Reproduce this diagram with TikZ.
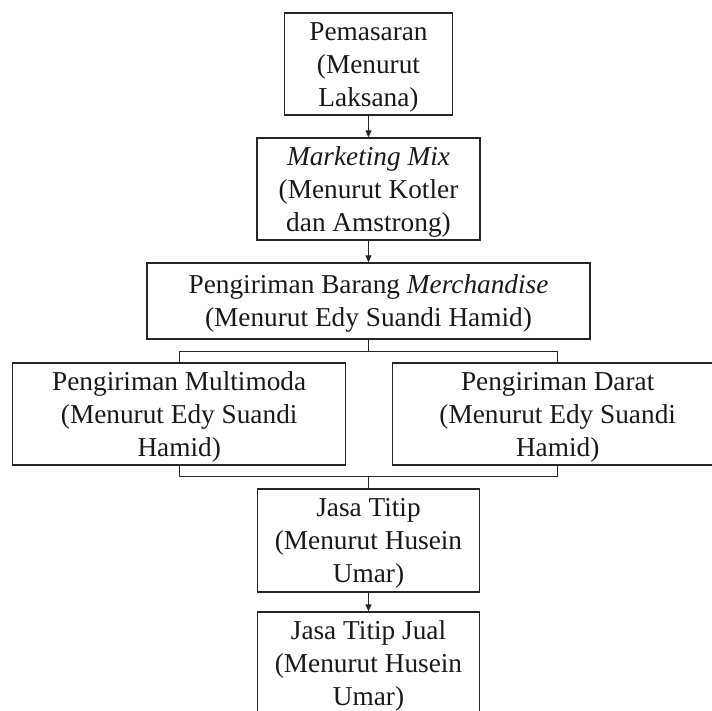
\documentclass[tikz,border=0pt]{standalone}
\usepackage{fontspec}
\setmainfont{Liberation Serif}
\usetikzlibrary{arrows.meta}
\begin{document}
\begin{tikzpicture}[x=1pt,y=-1pt,
  box/.style={draw=black!85, line width=1.3pt, inner sep=0pt},
  txt/.style={align=center, inner sep=0pt, text=black!90,
    font=\fontsize{27.3pt}{33pt}\selectfont},
  conn/.style={draw=black!85, line width=1.1pt},
  arr/.style={conn, -{Triangle[length=7pt,width=6pt]}}]
\useasboundingbox (0,0) rectangle (712,711);
\clip (0,0) rectangle (712,711);
% boxes
\node[box, minimum width=168pt, minimum height=102pt] (b1) at (368.5,64) {};
\node[box, minimum width=223pt, minimum height=102pt] (b2) at (368.5,189) {};
\node[box, minimum width=443pt, minimum height=76pt] (b3) at (368.5,301) {};
\node[box, minimum width=333pt, minimum height=102pt] (b4) at (179.2,414) {};
\node[box, minimum width=330pt, minimum height=102pt] (b5) at (557.7,414) {};
\node[box, minimum width=222pt, minimum height=103pt] (b6) at (368.5,540.5) {};
\node[box, minimum width=222pt, minimum height=103pt] (b7) at (368.5,663.5) {};
% texts
\node[txt] (t1) at (368.5,67) {Pemasaran\\(Menurut\\Laksana)};
\node[txt] (t2) at (368.5,192) {\textit{Marketing Mix}\\(Menurut Kotler\\dan Amstrong)};
\node[txt] (t3) at (368.5,303.5) {Pengiriman Barang \textit{Merchandise}\\(Menurut Edy Suandi Hamid)};
\node[txt] (t4) at (179.2,417) {Pengiriman Multimoda\\(Menurut Edy Suandi\\Hamid)};
\node[txt] (t5) at (557.7,417) {Pengiriman Darat\\(Menurut Edy Suandi\\Hamid)};
\node[txt] (t6) at (368.5,543.5) {Jasa Titip\\(Menurut Husein\\Umar)};
\node[txt] (t7) at (368.5,666) {Jasa Titip Jual\\(Menurut Husein\\Umar)};
% connectors
\coordinate (j1) at (368.5,351.7);
\coordinate (j2) at (368.5,476.7);
\draw[arr] (b1.south) -- (b2.north);
\draw[arr] (b2.south) -- (b3.north);
\draw[conn] (b3.south) -- (j1);
\draw[conn] (b4.north) |- (j1) -| (b5.north);
\draw[conn] (b4.south) |- (j2) -| (b5.south);
\draw[conn] (j2) -- (b6.north);
\draw[arr] (b6.south) -- (b7.north);
\end{tikzpicture}
\end{document}
